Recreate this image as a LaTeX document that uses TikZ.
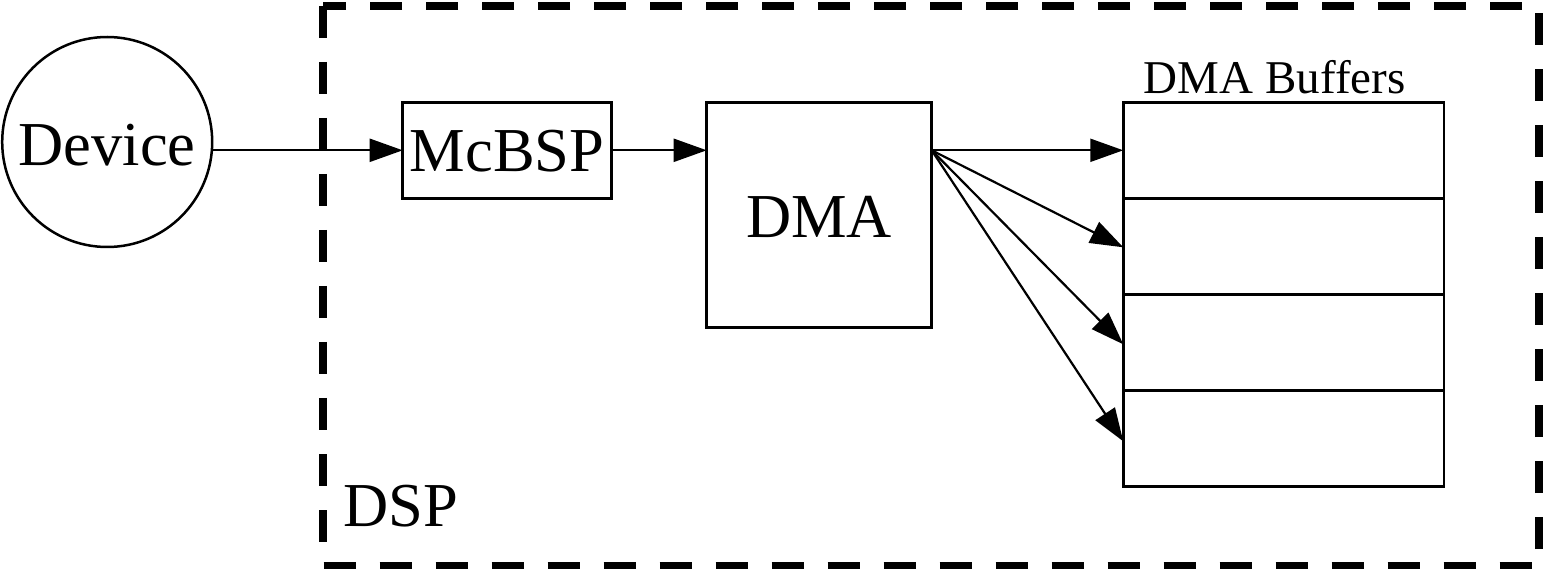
\documentclass[tikz,border=0pt]{standalone}
\usepackage{fontspec}
\setmainfont{Liberation Serif}
\usetikzlibrary{arrows.meta}

\tikzset{
  thinline/.style={line width=2.5pt},
  block/.style={draw, thinline, rectangle, inner sep=0pt, outer sep=0pt,
                font=\fontsize{62.5}{70}\selectfont, text depth=0pt},
  cell/.style={draw, thinline, rectangle, inner sep=0pt, outer sep=0pt,
               minimum width=320.7pt, minimum height=96pt},
  flow/.style={line width=2.2pt, -{Triangle[length=33pt,width=23pt]}},
  frame/.style={line width=8pt, dash pattern=on 32pt off 24pt},
  caption/.style={inner sep=0pt, anchor=base}
}

\begin{document}
\begin{tikzpicture}[x=1pt, y=-1pt]
\useasboundingbox (0,0) rectangle (1543,569);

% DSP boundary
\draw[frame] (323,6) -- (323,565.5) -- (1539,565.5) -- (1539,6) -- cycle;
\node[caption, anchor=base west, font=\fontsize{62.5}{70}\selectfont] (dsp) at (343,526) {DSP};

% external device
\node[block, circle, minimum size=210pt, text height=48pt] (device) at (107.2,142) {Device};

% serial port and DMA controller
\node[block, minimum width=209pt, minimum height=96pt, text height=42.8pt] (mcbsp) at (507.2,150.3) {McBSP};
\node[block, minimum width=225pt, minimum height=225pt, text height=45.8pt] (dma) at (819.2,214.8) {DMA};

% buffer stack
\node[cell] (buf1) at (1283.6,150.3) {};
\node[cell] (buf2) at (1283.6,246.3) {};
\node[cell] (buf3) at (1283.6,342.3) {};
\node[cell] (buf4) at (1283.6,438.3) {};
\node[caption, font=\fontsize{47}{54}\selectfont] (buflabel) at (1274.7,93.3) {DMA Buffers};

% data flow
\coordinate (devout) at (device.east |- mcbsp.west);
\coordinate (dmain) at (dma.west |- mcbsp.east);
\coordinate (dmaout) at (dma.east |- mcbsp.east);
\draw[flow] (devout) -- (mcbsp.west);
\draw[flow] (mcbsp.east) -- (dmain);
\draw[flow] (dmaout) -- (buf1.west);
\draw[flow] (dmaout) -- ([yshift=-1pt]buf2.west);
\draw[flow] (dmaout) -- ([yshift=-2pt]buf3.west);
\draw[flow] (dmaout) -- ([yshift=-3pt]buf4.west);
\end{tikzpicture}
\end{document}
